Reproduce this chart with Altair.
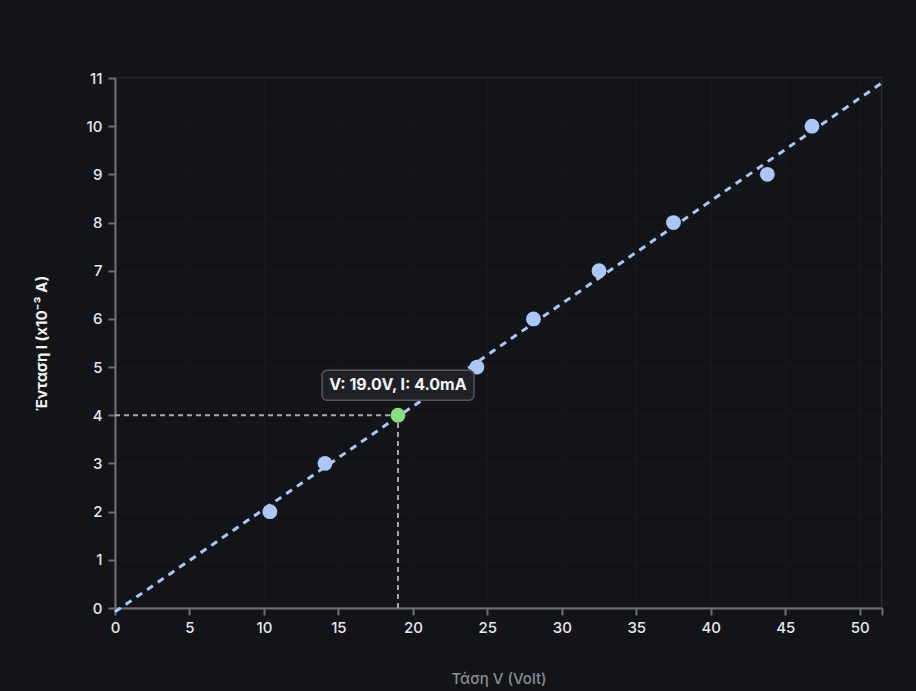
import altair as alt
import pandas as pd

# measured points (Volt, mA)
volts = [10.4, 14.1, 24.3, 28.1, 32.5, 37.5, 43.8, 46.8]
amps = [2, 3, 5, 6, 7, 8, 9, 10]

# highlighted point
hl_v = [19.0]
hl_i = [4.0]
hl_label = ["V: 19.0V, I: 4.0mA"]

# fit line end points
fit_v = [0.0, 51.5]
fit_i = [-0.08, 10.9]

x_ticks = [0, 5, 10, 15, 20, 25, 30, 35, 40, 45, 50, 51.5]
y_ticks = list(range(0, 12))

BG = "#131418"
BLUE = "#a9c8f7"
GREEN = "#86de7e"
FONT = "Inter"

pts = pd.DataFrame({"V": volts, "I": amps})
hl = pd.DataFrame({"V": hl_v, "I": hl_i, "label": hl_label, "V0": [0.0], "I0": [0.0]})
fit = pd.DataFrame({"V": fit_v, "I": fit_i})

xs = alt.Scale(domain=[0, 51.5], nice=False, zero=False)
ys = alt.Scale(domain=[0, 11], nice=False, zero=False)

x_axis = alt.Axis(
    values=x_ticks,
    labelExpr="datum.value > 51 ? '' : datum.label",
    labelFlush=False,
    title="Τάση V (Volt)",
    titleColor="#8a8d94",
    titleFontSize=15,
    titleFontWeight=500,
    titleFont=FONT,
    titleY=70,
    titleBaseline="middle",
    labelColor="#e6e8ec",
    labelFontSize=15,
    labelFontWeight=500,
    labelFont=FONT,
    labelPadding=5,
    tickColor="#6e6f73",
    tickSize=7,
    tickWidth=2,
    domainColor="#6e6f73",
    domainWidth=2,
    grid=True,
    gridColor="#18191e",
    gridWidth=1,
)
y_axis = alt.Axis(
    values=y_ticks,
    labelFlush=False,
    title="Ένταση I (x10⁻³ A)",
    titleColor="#f2f3f5",
    titleFontSize=15,
    titleFontWeight="bold",
    titleFont=FONT,
    titleX=-66,
    labelColor="#e6e8ec",
    labelFontSize=15,
    labelFontWeight=500,
    labelFont=FONT,
    labelPadding=6,
    tickColor="#6e6f73",
    tickSize=7,
    tickWidth=2,
    domainColor="#6e6f73",
    domainWidth=2,
    grid=True,
    gridColor="#18191e",
    gridWidth=1,
)

base_x = alt.X("V:Q", scale=xs, axis=x_axis)
base_y = alt.Y("I:Q", scale=ys, axis=y_axis)

fit_line = alt.Chart(fit).mark_line(
    color=BLUE, strokeWidth=3, strokeDash=[7, 6]
).encode(x=base_x, y=base_y)

hguide = alt.Chart(hl).mark_rule(
    color="#a8a8a8", strokeWidth=2, strokeDash=[5, 4]
).encode(x=alt.X("V0:Q", scale=xs), x2="V:Q", y=alt.Y("I:Q", scale=ys))

vguide = alt.Chart(hl).mark_rule(
    color="#a8a8a8", strokeWidth=2, strokeDash=[5, 4]
).encode(x=alt.X("V:Q", scale=xs), y=alt.Y("I0:Q", scale=ys), y2="I:Q")

points = alt.Chart(pts).mark_circle(
    color=BLUE, size=220, opacity=1
).encode(x=base_x, y=base_y)

hl_point = alt.Chart(hl).mark_circle(
    color=GREEN, size=220, opacity=1
).encode(x=alt.X("V:Q", scale=xs), y=alt.Y("I:Q", scale=ys))

box = alt.Chart(hl).mark_rect(
    width=152, height=30, yOffset=-30, cornerRadius=5,
    fill="#1f2126", stroke="#55575c", strokeWidth=1.5
).encode(x=alt.X("V:Q", scale=xs), y=alt.Y("I:Q", scale=ys))

box_text = alt.Chart(hl).mark_text(
    dy=-30, color="#f5f6f8", fontSize=16, fontWeight="bold", font=FONT,
    align="center", baseline="middle"
).encode(x=alt.X("V:Q", scale=xs), y=alt.Y("I:Q", scale=ys), text="label:N")

chart = alt.layer(
    fit_line, hguide, vguide, points, hl_point, box, box_text
).properties(
    width=767,
    height=530,
    background=BG,
    padding={"left": 115, "top": 78, "right": 34, "bottom": 83},
    autosize=alt.AutoSizeParams(type="none"),
).configure_view(
    stroke="#2a2b30", strokeWidth=2
)

chart.save("out.html", embed_options={"renderer": "svg", "actions": False})
